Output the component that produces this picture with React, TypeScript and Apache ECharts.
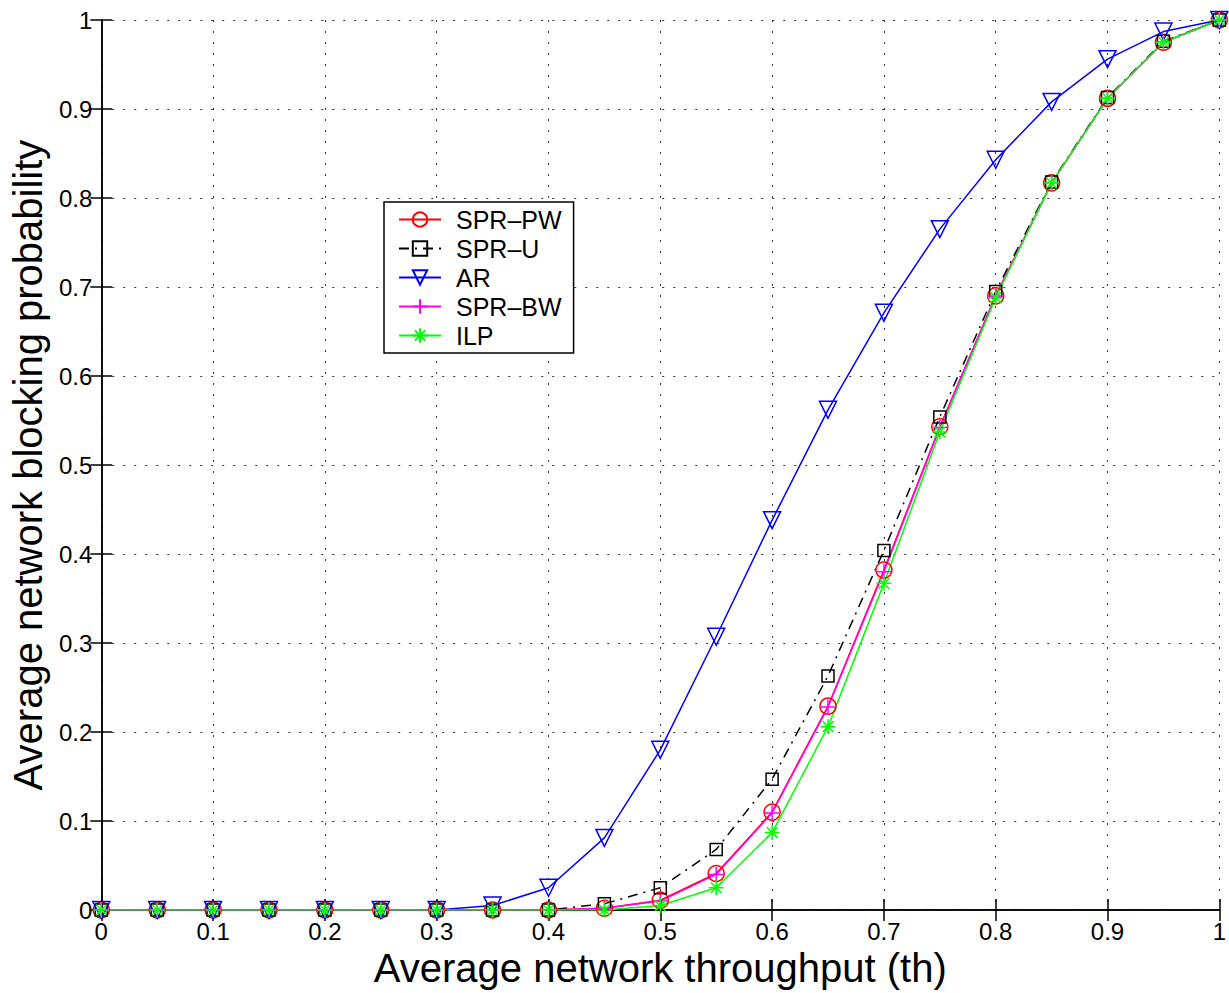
import React, { useEffect, useRef } from "react";
import * as echarts from "echarts";

const xValues = [0, 0.05, 0.1, 0.15, 0.2, 0.25, 0.3, 0.35, 0.4, 0.45, 0.5, 0.55, 0.6, 0.65, 0.7, 0.75, 0.8, 0.85, 0.9, 0.95, 1];
const sprPW = [0, 0, 0, 0, 0, 0, 0, 0, 0, 0.002, 0.011, 0.041, 0.11, 0.229, 0.382, 0.543, 0.69, 0.817, 0.912, 0.975, 1];
const sprU = [0, 0, 0, 0, 0, 0, 0, 0, 0, 0.007, 0.025, 0.068, 0.147, 0.263, 0.404, 0.554, 0.695, 0.818, 0.913, 0.976, 1];
const ar = [0, 0, 0, 0, 0, 0, 0, 0.005, 0.025, 0.081, 0.18, 0.307, 0.438, 0.562, 0.671, 0.765, 0.843, 0.908, 0.956, 0.987, 1];
const sprBW = [0, 0, 0, 0, 0, 0, 0, 0, 0, 0.002, 0.01, 0.04, 0.109, 0.228, 0.38, 0.542, 0.69, 0.817, 0.912, 0.975, 1];
const ilp = [0, 0, 0, 0, 0, 0, 0, 0, 0, 0, 0.005, 0.025, 0.087, 0.206, 0.367, 0.537, 0.688, 0.817, 0.912, 0.975, 1];
const seriesNames = ["SPR–PW", "SPR–U", "AR", "SPR–BW", "ILP"];

const FONT = "Liberation Sans, Arial, Helvetica, sans-serif";
const PLUS = "path://M0,-1L0,1M-1,0L1,0";
const STAR = "path://M0,-1L0,1M-1,0L1,0M-0.707,-0.707L0.707,0.707M-0.707,0.707L0.707,-0.707";

function pairs(ys: number[]) {
  return xValues.map((x, i) => [x, ys[i]]);
}

function mkSeries(name: string, ys: number[], color: string, symbol: string, size: number, opts: any = {}) {
  return {
    name,
    type: "line",
    data: pairs(ys),
    symbol,
    symbolSize: size,
    symbolRotate: opts.rotate || 0,
    showAllSymbol: true,
    lineStyle: { color, width: 1.5, type: opts.dash || "solid" },
    itemStyle: { color: "rgba(0,0,0,0)", borderColor: color, borderWidth: 1.5 },
    emphasis: { disabled: true },
  };
}

export default function App() {
  const ref = useRef<HTMLDivElement>(null);
  useEffect(() => {
    const chart = echarts.init(ref.current!, null, { renderer: "svg" });
    const axisLine = { show: true, lineStyle: { color: "#000", width: 1.5 } };
    const tick = { inside: true, length: 11, lineStyle: { color: "#000", width: 1.5 } };
    const grid = { show: true, lineStyle: { color: "#333", width: 1, type: [2, 9] } };
    chart.setOption({
      animation: false,
      backgroundColor: "#fff",
      grid: { left: 97, top: 20, right: 6, bottom: 83, containLabel: false },
      legend: {
        orient: "vertical",
        left: 384,
        top: 202,
        data: seriesNames,
        backgroundColor: "#fff",
        borderColor: "#000",
        borderWidth: 1.5,
        padding: [5, 12, 5, 14],
        itemWidth: 42,
        itemHeight: 18,
        itemGap: 4,
        textStyle: { fontFamily: FONT, fontSize: 25, color: "#000", lineHeight: 25, padding: [0, 0, 0, 10] },
      },
      xAxis: [
        {
          type: "value",
          min: 0,
          max: 1,
          interval: 0.1,
          position: "bottom",
          name: "Average network throughput (th)",
          nameLocation: "middle",
          nameGap: 38,
          nameTextStyle: { fontFamily: FONT, fontSize: 40, color: "#000" },
          axisLine,
          axisTick: tick,
          axisLabel: { fontFamily: FONT, fontSize: 24, color: "#000", margin: 9 },
          splitLine: grid,
        },
        {
          type: "value",
          min: 0,
          max: 1,
          interval: 0.1,
          position: "top",
          axisLine,
          axisTick: tick,
          axisLabel: { show: false },
          splitLine: { show: false },
        },
      ],
      yAxis: [
        {
          type: "value",
          min: 0,
          max: 1,
          interval: 0.1,
          position: "left",
          name: "Average network blocking probability",
          nameLocation: "middle",
          nameGap: 44,
          nameTextStyle: { fontFamily: FONT, fontSize: 40, color: "#000" },
          axisLine,
          axisTick: tick,
          axisLabel: { fontFamily: FONT, fontSize: 24, color: "#000", margin: 9 },
          splitLine: grid,
        },
        {
          type: "value",
          min: 0,
          max: 1,
          interval: 0.1,
          position: "right",
          axisLine,
          axisTick: tick,
          axisLabel: { show: false },
          splitLine: { show: false },
        },
      ],
      series: [
        mkSeries(seriesNames[0], sprPW, "#ff0000", "circle", 16),
        mkSeries(seriesNames[1], sprU, "#000000", "rect", 12, { dash: [10, 6, 2, 6] }),
        mkSeries(seriesNames[2], ar, "#0000ff", "triangle", 17, { rotate: 180 }),
        mkSeries(seriesNames[3], sprBW, "#ff00ff", PLUS, 15),
        mkSeries(seriesNames[4], ilp, "#00ff00", STAR, 15),
      ],
    });
    return () => chart.dispose();
  }, []);
  return <div ref={ref} style={{ position: "fixed", left: 0, top: 0, width: 1229, height: 993 }} />;
}
